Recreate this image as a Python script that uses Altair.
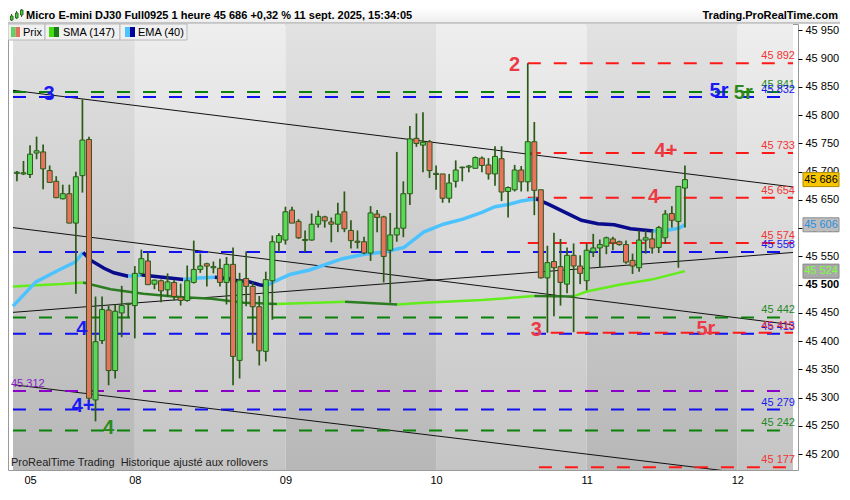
import altair as alt
import pandas as pd

# ---------------- data (hourly candles, index 0..102) ----------------
opens = [45697, 45696, 45695, 45733, 45735, 45702, 45683, 45652, 45661, 45609,
         45693, 45757, 45296, 45401, 45455, 45348, 45450, 45465, 45463, 45520,
         45542, 45501, 45507, 45491, 45504, 45478, 45472, 45504, 45527, 45537,
         45530, 45529, 45504, 45536, 45366, 45511, 45497, 45461, 45382, 45507,
         45575, 45579, 45632, 45612, 45578, 45579, 45607, 45620, 45611, 45607,
         45629, 45596, 45577, 45576, 45556, 45625, 45620, 45561, 45588, 45600,
         45661, 45759, 45747, 45753, 45697, 45696, 45653, 45683, 45707, 45708,
         45706, 45724, 45712, 45696, 45723, 45665, 45668, 45703, 45682, 45753,
         45668, 45512, 45541, 45532, 45501, 45552, 45533, 45507, 45558, 45565,
         45568, 45581, 45576, 45571, 45543, 45530, 45579, 45581, 45566, 45583,
         45626, 45612, 45671]
highs = [45701, 45719, 45747, 45762, 45748, 45711, 45692, 45677, 45677, 45700,
         45828, 45762, 45479, 45479, 45463, 45465, 45498, 45468, 45533, 45562,
         45558, 45509, 45509, 45520, 45508, 45502, 45534, 45578, 45555, 45539,
         45541, 45546, 45549, 45566, 45521, 45559, 45504, 45480, 45523, 45587,
         45591, 45638, 45638, 45616, 45596, 45626, 45631, 45622, 45619, 45645,
         45665, 45614, 45596, 45585, 45639, 45632, 45622, 45627, 45735, 45683,
         45781, 45803, 45805, 45756, 45711, 45696, 45696, 45720, 45709, 45712,
         45727, 45727, 45724, 45745, 45745, 45674, 45712, 45710, 45892, 45788,
         45668, 45569, 45592, 45581, 45566, 45573, 45552, 45573, 45590, 45580,
         45585, 45585, 45578, 45578, 45555, 45596, 45596, 45596, 45604, 45632,
         45639, 45674, 45711]
lows = [45683, 45694, 45689, 45722, 45669, 45681, 45653, 45651, 45609, 45484,
        45663, 45293, 45258, 45395, 45322, 45334, 45407, 45442, 45405, 45515,
        45500, 45492, 45469, 45479, 45472, 45463, 45470, 45502, 45521, 45497,
        45520, 45497, 45465, 45322, 45334, 45462, 45396, 45357, 45364, 45438,
        45558, 45571, 45609, 45581, 45558, 45578, 45601, 45601, 45575, 45593,
        45593, 45564, 45564, 45554, 45542, 45593, 45504, 45468, 45576, 45584,
        45641, 45744, 45699, 45689, 45668, 45645, 45645, 45672, 45683, 45699,
        45706, 45699, 45686, 45675, 45648, 45619, 45665, 45665, 45665, 45623,
        45511, 45415, 45444, 45463, 45485, 45416, 45501, 45490, 45549, 45530,
        45554, 45561, 45569, 45537, 45519, 45523, 45555, 45555, 45556, 45572,
        45601, 45530, 45601]
closes = [45699, 45698, 45731, 45737, 45705, 45681, 45654, 45661, 45609, 45691,
          45756, 45299, 45399, 45456, 45348, 45453, 45463, 45467, 45520, 45546,
          45500, 45508, 45489, 45505, 45479, 45472, 45507, 45527, 45533, 45533,
          45532, 45504, 45536, 45373, 45508, 45497, 45461, 45383, 45509, 45576,
          45587, 45629, 45609, 45583, 45580, 45607, 45621, 45613, 45607, 45625,
          45599, 45578, 45575, 45556, 45627, 45619, 45550, 45588, 45600, 45661,
          45758, 45750, 45752, 45702, 45695, 45653, 45680, 45703, 45708, 45710,
          45725, 45711, 45696, 45727, 45664, 45672, 45703, 45682, 45753, 45667,
          45512, 45539, 45530, 45504, 45552, 45533, 45520, 45561, 45565, 45571,
          45583, 45574, 45571, 45540, 45533, 45579, 45583, 45565, 45601, 45625,
          45614, 45674, 45686]

# EMA(40) read at points along the curve (candle index, price)
ema_idx = [-0.6, 2.9, 6.4, 8.9, 10.1, 11.3, 13.3, 14.8, 17.0, 19.1, 25.4, 27.8, 30.2,
           32.2, 33.7, 35.2, 37.0, 38.0, 39.2, 41.7, 44.7, 47.2, 49.7, 53.1, 56.1,
           59.1, 62.1, 65.1, 68.1, 71.0, 73.0, 75.0, 77.0, 79.3, 81.2, 83.7, 86.2,
           88.7, 91.2, 93.7, 97.2, 99.1, 101.1, 102.0]
ema_val = [45462, 45505, 45526, 45540, 45557, 45543, 45529, 45521, 45515, 45517, 45509, 45512, 45513,
           45511, 45507, 45506, 45500, 45498, 45505, 45518, 45526, 45536, 45546, 45554, 45558,
           45566, 45593, 45607, 45616, 45628, 45638, 45642, 45648, 45652, 45642, 45628, 45614,
           45608, 45606, 45599, 45595, 45596, 45600, 45606]

# SMA(147)
sma_idx = [-0.6, 6.9, 10.1, 14.3, 19.3, 24.8, 29.7, 34.7, 39.7, 45.7, 50.1, 58.1, 62.1,
           71.0, 77.0, 79.0, 84.9, 87.0, 92.0, 96.9, 102.0]
sma_val = [45497, 45501, 45504, 45492, 45484, 45478, 45475, 45468, 45466, 45468, 45470, 45465, 45468,
           45473, 45478, 45480, 45479, 45488, 45500, 45509, 45524]

# horizontal levels
level_values = [45892, 45841, 45832, 45733, 45654, 45574, 45558, 45442, 45413, 45415, 45312, 45279, 45242, 45177]
level_kinds = ["red", "green", "blue", "red", "red", "red", "blue", "green", "blue", "red", "purple", "blue", "green", "red"]
level_start = [78, -0.6, -0.6, 78, 78, 78, -0.6, -0.6, -0.6, 81.5, -0.6, -0.6, -0.6, 79.7]

# pattern markers
marker_text = ["2", "3", "5r", "5r", "4+", "4", "3", "5r", "4", "4+", "4"]
marker_idx = [76, 4.9, 107.2, 110.9, 99.1, 97.2, 79.3, 105.2, 9.9, 10.1, 14.0]
marker_price = [45889, 45837, 45842, 45840, 45737, 45655, 45419, 45421, 45421, 45285, 45246]
marker_kind = ["red", "blue", "blue", "green", "red", "red", "red", "red", "blue", "blue", "green"]

# trend lines (start/end index and price)
trend_i0 = [-0.6, -0.6, -0.6, -0.6]
trend_i1 = [118.5, 118.5, 118.5, 118.5]
trend_p0 = [45844, 45601, 45451, 45323]
trend_p1 = [45673, 45429, 45557, 45156]

day_idx = [2, 18, 41, 64, 87, 110]
day_lbl = ["05", "08", "09", "10", "11", "12"]
band_edges = [-0.6, 18, 41, 64, 87, 110, 118.5]

title_txt = "Micro E-mini DJ30 Full0925 1 heure 45 686 +0,32 % 11 sept. 2025, 15:34:05"
site_txt = "Trading.ProRealTime.com"
note_txt = "ProRealTime Trading\u00a0 Historique ajusté aux rollovers"

# ---------------- styling ----------------
FONT = "Liberation Sans, Arial, sans-serif"
W, H = 790, 446
X_DOM = [-0.6, 118.5]
Y_DOM = [45172.0, 45961.4]
GREEN_BODY = "#5ad85a"
RED_BODY = "#e8735f"
OUTLINE = "#2b5a17"
LEVEL_COL = {"red": "#ff1a1a", "green": "#0a820a", "blue": "#1010f0", "purple": "#8a00c8"}
LABEL_COL = {"red": "#f03535", "green": "#1f8a1f", "blue": "#1a1aee", "purple": "#8a1ac8"}
MARK_COL = {"red": "#ec3a44", "green": "#2a8a1a", "blue": "#1a1af5"}
EMA_UP, EMA_DN = "#4cc3ff", "#0a0a8c"
SMA_UP, SMA_DN = "#62ec1c", "#2c7d22"

xs = alt.Scale(domain=X_DOM, nice=False, zero=False)
ys = alt.Scale(domain=Y_DOM, nice=False, zero=False)
x_expr = "".join(f"datum.value == {d} ? '{l}' : " for d, l in zip(day_idx, day_lbl)) + "''"
x_axis = alt.Axis(values=day_idx, labelExpr=x_expr, tickSize=0, labelPadding=4, title=None,
                  domain=False, grid=False, labelFlush=False)
y_axis = alt.Axis(orient="right", values=list(range(45200, 45951, 50)),
                  labelExpr="replace(format(datum.value, ','), ',', ' ')",
                  tickSize=4, tickColor="#000", labelPadding=3, title=None, domain=False, grid=False,
                  labelFontWeight=alt.condition("datum.value == 45500", alt.value("bold"), alt.value("normal")))

X = lambda f: alt.X(f, scale=xs, axis=x_axis)
Y = lambda f: alt.Y(f, scale=ys, axis=y_axis)

one = pd.DataFrame({"k": [0]})

def rect(x0, x1, y0, y1, fill, stroke=None):
    kw = dict(fill=fill)
    if stroke:
        kw.update(stroke=stroke, strokeWidth=1)
    return alt.Chart(one).mark_rect(**kw).encode(
        x=alt.value(x0), x2=alt.value(x1), y=alt.value(y0), y2=alt.value(y1))

def vrule(x, y0, y1, color):
    return alt.Chart(one).mark_rule(color=color, strokeWidth=1).encode(
        x=alt.value(x), y=alt.value(y0), y2=alt.value(y1))

def label(x, y, txt, size=11, weight="normal", color="#000", align="left"):
    return alt.Chart(one).mark_text(text=txt, fontSize=size, fontWeight=weight, color=color,
                                    align=align, baseline="middle", font=FONT).encode(
        x=alt.value(x), y=alt.value(y))

def grad(top, bottom):
    return alt.LinearGradient(gradient="linear", x1=0, x2=0, y1=0, y2=1,
                              stops=[alt.GradientStop(offset=0, color=top),
                                     alt.GradientStop(offset=1, color=bottom)])

# ---------------- tables ----------------
candles = pd.DataFrame({"i": list(range(len(opens))), "open": opens, "high": highs,
                        "low": lows, "close": closes})

bands = pd.DataFrame({"x0": band_edges[:-1], "x1": band_edges[1:]})
bands["dark"] = [k % 2 == 0 for k in range(len(bands))]

levels = pd.DataFrame({"value": level_values, "kind": level_kinds, "start": level_start})
levels["end"] = X_DOM[1]
levels["lc"] = levels["kind"].map(LEVEL_COL)
levels["tc"] = levels["kind"].map(LABEL_COL)
levels["txt"] = [f"{v:,}".replace(",", " ") for v in level_values]

markers = pd.DataFrame({"t": marker_text, "i": marker_idx, "p": marker_price, "kind": marker_kind})
markers["c"] = markers["kind"].map(MARK_COL)

trend = pd.DataFrame({"i0": trend_i0, "i1": trend_i1, "p0": trend_p0, "p1": trend_p1})


def segments(idx, val, up, dn):
    rows, seg, prev = [], 0, None
    for k in range(len(idx) - 1):
        d = val[k + 1] >= val[k]
        if prev is not None and d != prev:
            seg += 1
        prev = d
        c = up if d else dn
        rows.append({"i": idx[k], "v": val[k], "seg": seg, "c": c, "o": 2 * k})
        rows.append({"i": idx[k + 1], "v": val[k + 1], "seg": seg, "c": c, "o": 2 * k + 1})
    return pd.DataFrame(rows)

ema = segments(ema_idx, ema_val, EMA_UP, EMA_DN)
sma = segments(sma_idx, sma_val, SMA_UP, SMA_DN)

tags = pd.DataFrame({"p": [closes[-1], ema_val[-1], sma_val[-1]],
                     "fill": ["#f7c600", "#bdbdbd", "#a9a9a9"],
                     "stroke": ["#b08a00", "#8f8f8f", "#8a8a8a"],
                     "tc": ["#000000", "#2a8fe0", "#7dff3a"]})
tags["txt"] = [f"{int(v):,}".replace(",", " ") for v in tags["p"]]

# ---------------- layers ----------------
band_light = alt.Chart(bands[~bands["dark"]]).mark_rect(fill=grad("#eeeeee", "#c4c4c4")).encode(
    x=X("x0:Q"), x2="x1:Q", y=alt.value(0), y2=alt.value(H))
band_dark = alt.Chart(bands[bands["dark"]]).mark_rect(fill=grad("#e2e2e2", "#b7b7b7")).encode(
    x=X("x0:Q"), x2="x1:Q", y=alt.value(0), y2=alt.value(H))

trend_lines = alt.Chart(trend).mark_rule(color="#111111", strokeWidth=1, clip=True).encode(
    x=X("i0:Q"), x2="i1:Q", y=Y("p0:Q"), y2="p1:Q")

level_lines = alt.Chart(levels).mark_rule(strokeDash=[13, 13], strokeWidth=2, clip=True).encode(
    x=X("start:Q"), x2="end:Q", y=Y("value:Q"), color=alt.Color("lc:N", scale=None))

sma_line = alt.Chart(sma).mark_line(strokeWidth=2.5, clip=True).encode(
    x=X("i:Q"), y=Y("v:Q"), detail="seg:N", order="o:Q", color=alt.Color("c:N", scale=None))
ema_line = alt.Chart(ema).mark_line(strokeWidth=3.5, clip=True).encode(
    x=X("i:Q"), y=Y("v:Q"), detail="seg:N", order="o:Q", color=alt.Color("c:N", scale=None))

wicks = alt.Chart(candles).mark_rule(color=OUTLINE, strokeWidth=1.7).encode(
    x=X("i:Q"), y=Y("low:Q"), y2="high:Q")
bodies = alt.Chart(candles).mark_bar(size=5, stroke=OUTLINE, strokeWidth=1).encode(
    x=X("i:Q"), y=Y("open:Q"), y2="close:Q",
    fill=alt.condition("datum.close >= datum.open", alt.value(GREEN_BODY), alt.value(RED_BODY)))

level_labels = alt.Chart(levels[levels["kind"] != "purple"]).mark_text(
    align="right", baseline="middle", fontSize=11, font=FONT, dy=-7).encode(
    x=alt.value(787), y=Y("value:Q"), text="txt:N", color=alt.Color("tc:N", scale=None))
purple_label = alt.Chart(levels[levels["kind"] == "purple"]).mark_text(
    align="left", baseline="middle", fontSize=11, font=FONT, dy=-7).encode(
    x=alt.value(3), y=Y("value:Q"), text="txt:N", color=alt.Color("tc:N", scale=None))

marker_labels = alt.Chart(markers).mark_text(
    align="center", baseline="middle", fontSize=20, fontWeight="bold", font=FONT).encode(
    x=X("i:Q"), y=Y("p:Q"), text="t:N", color=alt.Color("c:N", scale=None))

tag_rect = alt.Chart(tags).transform_calculate(
    hi="datum.p + 12.4", lo="datum.p - 12.4").mark_rect(strokeWidth=1).encode(
    x=alt.value(795), x2=alt.value(831), y=Y("hi:Q"), y2="lo:Q",
    fill=alt.Fill("fill:N", scale=None), stroke=alt.Stroke("stroke:N", scale=None))
tag_text = alt.Chart(tags).mark_text(align="center", baseline="middle", fontSize=11, font=FONT).encode(
    x=alt.value(813), y=Y("p:Q"), text="txt:N", color=alt.Color("tc:N", scale=None))

note = label(3, H - 7, note_txt, size=11, color="#222222")

# title bar
title_bg = alt.Chart(one).mark_rect(fill=grad("#ffffff", "#ededed")).encode(
    x=alt.value(0), x2=alt.value(832), y=alt.value(-16), y2=alt.value(-1))
title_line = alt.Chart(one).mark_rule(color="#9a9a9a", strokeWidth=1).encode(
    x=alt.value(0), x2=alt.value(832), y=alt.value(-1))
title = label(18, -8, title_txt, size=11, weight="bold")
site = label(830, -8, site_txt, size=11, weight="bold", align="right")
icon = [
    vrule(3.5, -10, -3, "#2d6a1a"), rect(2.5, 5, -8, -4, "#44cc44", "#2d6a1a"),
    vrule(8.5, -13, -5, "#2d6a1a"), rect(7.5, 10, -11, -6, "#44cc44", "#2d6a1a"),
    vrule(13.5, -15, -7, "#2d6a1a"), rect(12.5, 15, -14, -9, "#44cc44", "#2d6a1a"),
]

# legend boxes
legend = [
    rect(0, 37, 0, 16, "#f0f0f0", "#b9b9b9"),
    rect(3, 7.5, 3, 13, "#5fd35f"), rect(7.5, 12, 3, 13, "#e07060"),
    label(15, 8.5, "Prix"),
    rect(37, 112, 0, 16, "#f0f0f0", "#b9b9b9"),
    rect(41, 46, 3, 13, "#44dd11"), rect(46, 51, 3, 13, "#1a7a1a"),
    label(55, 8.5, "SMA (147)"),
    rect(112, 179, 0, 16, "#f0f0f0", "#b9b9b9"),
    rect(117, 122, 3, 13, "#4cc3ff"), rect(122, 127, 3, 13, "#000099"),
    label(130, 8.5, "EMA (40)"),
]

chart = alt.layer(
    band_light, band_dark, trend_lines, level_lines, sma_line, ema_line, wicks, bodies,
    level_labels, purple_label, marker_labels, note, tag_rect, tag_text,
    title_bg, title_line, title, site, *icon, *legend
).properties(
    width=W, height=H,
    autosize=alt.AutoSizeParams(type="none"),
    padding={"left": 0, "top": 16, "right": 42, "bottom": 14},
    background="white",
).configure_view(
    stroke="#9a9a9a", strokeWidth=1
).configure_axis(
    labelFont=FONT, labelFontSize=11, labelColor="#000000"
)

chart.save("out.html", embed_options={"renderer": "svg", "actions": False})
